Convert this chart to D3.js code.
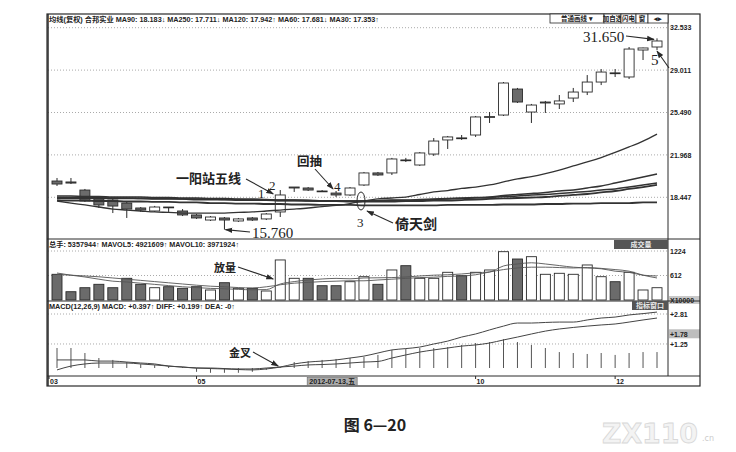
<!DOCTYPE html>
<html>
<head>
<meta charset="utf-8">
<script src="https://cdn.jsdelivr.net/npm/d3@7/dist/d3.min.js"></script>
<style>
  body { margin: 0; background: #fff; }
  svg { display: block; }
  .ui { font-family: 'Liberation Sans', 'Noto Sans CJK SC', sans-serif; font-size: 7px; font-weight: bold; fill: #222; }
  .note { font-family: 'Noto Sans CJK SC', sans-serif; font-weight: bold; fill: #222; }
  .num { font-family: 'Liberation Serif', 'DejaVu Serif', serif; fill: #222; }
</style>
</head>
<body>
<svg id="chart" width="736" height="452"></svg>
<script>
  // weekly candles, March - December 2012
  const opens = [19.80, 19.72, 19.05, 18.31, 18.22, 17.97, 17.56, 17.31, 17.64, 17.31, 16.98, 16.56, 16.73, 16.48, 16.73, 16.65, 17.23, 19.22, 19.22, 18.97, 18.80, 18.64, 19.47, 20.47, 20.47, 21.55, 21.13, 22.04, 23.21, 23.38, 23.62, 25.10, 25.28, 27.44, 25.53, 26.28, 26.20, 26.69, 27.19, 28.02, 28.78, 28.44, 30.68, 30.93]
  const highs = [20.05, 20.05, 19.14, 18.47, 18.39, 18.14, 17.64, 17.73, 17.64, 17.47, 17.06, 16.89, 16.81, 16.73, 16.81, 17.14, 19.05, 19.30, 19.30, 19.05, 18.97, 19.30, 20.55, 20.55, 21.72, 21.72, 22.21, 23.37, 23.54, 23.62, 25.20, 25.53, 28.02, 27.53, 26.20, 26.45, 26.94, 27.53, 28.60, 29.10, 29.10, 30.93, 30.88, 31.65]
  const lows = [19.39, 19.55, 18.06, 17.56, 17.14, 16.73, 17.23, 17.23, 17.23, 16.89, 16.65, 16.48, 15.76, 16.40, 16.48, 16.56, 16.81, 18.89, 18.97, 18.89, 18.47, 18.56, 19.39, 20.22, 20.30, 21.38, 21.05, 21.88, 22.46, 23.21, 23.46, 24.62, 25.20, 26.28, 24.62, 25.45, 25.78, 26.36, 26.94, 27.77, 28.44, 28.27, 29.85, 30.68]
  const closes = [19.55, 19.63, 18.14, 17.81, 17.72, 17.47, 17.39, 17.64, 17.60, 16.98, 16.73, 16.81, 16.56, 16.65, 16.56, 17.06, 18.64, 19.30, 19.05, 18.95, 18.64, 19.22, 20.47, 20.30, 21.63, 21.53, 22.13, 23.12, 23.46, 23.36, 25.12, 25.15, 27.94, 26.36, 26.11, 26.36, 26.45, 27.19, 28.02, 28.85, 28.74, 30.76, 30.85, 31.43]

  const ma30 = [18.14, 17.97, 17.81, 17.64, 17.47, 17.39, 17.31, 17.23, 17.19, 17.14, 17.14, 17.14, 17.14, 17.19, 17.23, 17.31, 17.39, 17.47, 17.56, 17.68, 17.77, 17.93, 18.14, 18.31, 18.39, 18.47, 18.68, 18.89, 19.01, 19.18, 19.30, 19.47, 19.72, 19.97, 20.17, 20.42, 20.71, 21.05, 21.38, 21.75, 22.17, 22.63, 23.12, 23.70]
  const ma60 = [18.56, 18.56, 18.51, 18.51, 18.47, 18.47, 18.47, 18.43, 18.43, 18.39, 18.39, 18.35, 18.35, 18.31, 18.31, 18.26, 18.22, 18.22, 18.18, 18.14, 18.14, 18.14, 18.14, 18.18, 18.22, 18.22, 18.26, 18.31, 18.35, 18.39, 18.43, 18.47, 18.60, 18.68, 18.76, 18.85, 18.97, 19.05, 19.22, 19.39, 19.63, 19.88, 20.13, 20.38]
  const ma90 = [18.43, 18.43, 18.43, 18.39, 18.39, 18.39, 18.35, 18.35, 18.35, 18.31, 18.31, 18.31, 18.26, 18.26, 18.22, 18.22, 18.18, 18.18, 18.14, 18.14, 18.14, 18.14, 18.14, 18.14, 18.18, 18.18, 18.22, 18.26, 18.31, 18.35, 18.39, 18.43, 18.51, 18.56, 18.64, 18.68, 18.76, 18.85, 18.93, 19.05, 19.14, 19.30, 19.47, 19.63]
  const ma120 = [18.39, 18.39, 18.39, 18.39, 18.35, 18.35, 18.35, 18.31, 18.31, 18.31, 18.26, 18.26, 18.26, 18.22, 18.22, 18.22, 18.18, 18.18, 18.18, 18.14, 18.14, 18.10, 18.10, 18.10, 18.10, 18.14, 18.14, 18.18, 18.18, 18.22, 18.26, 18.31, 18.35, 18.39, 18.43, 18.47, 18.56, 18.64, 18.72, 18.85, 18.97, 19.14, 19.30, 19.47]
  const ma250 = [18.22, 18.18, 18.18, 18.14, 18.14, 18.10, 18.10, 18.06, 18.06, 18.02, 18.02, 17.97, 17.97, 17.93, 17.93, 17.89, 17.89, 17.85, 17.85, 17.81, 17.81, 17.81, 17.77, 17.77, 17.77, 17.77, 17.77, 17.77, 17.81, 17.81, 17.81, 17.81, 17.85, 17.85, 17.85, 17.89, 17.89, 17.93, 17.93, 17.97, 17.97, 17.97, 18.02, 18.02]

  // volume in 10000 shares
  const volumes = [642, 207, 307, 392, 307, 542, 392, 307, 332, 292, 332, 250, 432, 292, 292, 225, 1000, 542, 542, 357, 357, 457, 582, 392, 750, 857, 542, 542, 692, 607, 692, 750, 1207, 1024, 1082, 642, 667, 642, 875, 582, 457, 692, 250, 307]
  const mavol5 = [674, 620, 575, 520, 470, 450, 420, 390, 360, 330, 310, 290, 280, 265, 255, 260, 400, 460, 500, 525, 540, 530, 550, 555, 560, 575, 600, 620, 630, 650, 680, 700, 850, 900, 930, 900, 860, 820, 800, 780, 720, 690, 620, 600]
  const mavol10 = [640, 620, 600, 580, 550, 520, 490, 460, 430, 400, 370, 345, 330, 310, 300, 330, 380, 420, 440, 460, 470, 480, 480, 500, 520, 540, 560, 570, 590, 600, 630, 700, 760, 800, 820, 820, 810, 800, 810, 790, 760, 720, 620, 550]

  const diff = [-0.10, 0.10, 0.21, 0.26, 0.26, 0.26, 0.21, 0.16, 0.10, 0.05, 0.00, -0.03, -0.05, -0.08, -0.10, -0.05, 0.05, 0.21, 0.31, 0.36, 0.42, 0.52, 0.62, 0.78, 0.94, 1.01, 1.09, 1.25, 1.40, 1.61, 1.77, 1.98, 2.18, 2.34, 2.34, 2.37, 2.39, 2.39, 2.50, 2.60, 2.65, 2.76, 2.83, 2.91]
  const dea = [0.42, 0.42, 0.42, 0.36, 0.36, 0.31, 0.26, 0.21, 0.10, 0.05, 0.00, 0.00, -0.03, -0.05, -0.05, 0.00, 0.05, 0.10, 0.16, 0.18, 0.21, 0.26, 0.31, 0.34, 0.52, 0.68, 0.83, 0.94, 1.04, 1.14, 1.20, 1.30, 1.46, 1.61, 1.77, 1.92, 2.03, 2.11, 2.18, 2.24, 2.29, 2.39, 2.50, 2.60]
  const macd = [1.04, 1.04, 0.78, 0.52, 0.42, 0.31, 0.20, 0.15, 0.10, 0.05, -0.20, -0.25, -0.25, -0.25, -0.20, -0.10, 0.05, 0.31, 0.36, 0.42, 0.47, 0.52, 0.57, 0.68, 0.94, 0.99, 1.04, 1.04, 1.09, 1.20, 1.30, 1.35, 1.50, 1.35, 1.20, 1.04, 0.83, 0.78, 0.73, 0.78, 0.68, 0.78, 0.83, 0.83]

  const priceTicks = [32.533, 29.011, 25.490, 21.968, 18.447]
  const volumeTicks = [1224, 612]
  const macdTicks = [2.81, 1.78, 1.25]
  const dateIndex = [0, 10, 30, 40]
  const dateLabels = ['03', '05', '10', '12']

  const n = opens.length
  const frameLeft = 47
  const plotRight = 668
  const outerRight = 700
  const frameTop = 14
  const mainBottom = 239
  const volBottom = 301
  const macdBottom = 376
  const frameBottom = 386
  const ink = '#2a2a2a'
  const darkFill = '#6b6b6b'

  const svg = d3.select('#chart')

  const x = d3.scaleLinear().domain([0, n - 1]).range([57, 657])
  const y = d3.scaleLinear().domain([18.447, 32.533]).range([197.3, 27.7])
  const yVol = d3.scaleLinear().domain([0, 1224]).range([300, 251])
  const yMacd = d3.scaleLinear().domain([0, 2.81]).range([368, 314])
  const isUp = i => closes[i] >= opens[i]

  // arrow head
  svg.append('defs').append('marker')
    .attr('id', 'head')
    .attr('viewBox', '0 0 10 10')
    .attr('refX', 9).attr('refY', 5)
    .attr('markerWidth', 7).attr('markerHeight', 7)
    .attr('orient', 'auto')
    .append('path')
      .attr('d', 'M0,1.5 L10,5 L0,8.5 Z')
      .attr('fill', ink)

  // dotted grid lines
  const grid = (scale, ticks) => {
    svg.append('g').selectAll('line').data(ticks).join('line')
      .attr('x1', frameLeft + 1).attr('x2', plotRight)
      .attr('y1', d => scale(d)).attr('y2', d => scale(d))
      .attr('stroke', '#aaa')
      .attr('stroke-dasharray', '1,2')
  }
  grid(y, priceTicks)
  grid(yVol, volumeTicks)
  grid(yMacd, [2.81, 1.25])

  // right-hand axes
  const rightAxis = (scale, ticks, fmt) => {
    const g = svg.append('g')
      .attr('transform', `translate(${plotRight},0)`)
      .call(d3.axisRight(scale).tickValues(ticks).tickFormat(fmt).tickSize(0).tickPadding(2))
    g.select('.domain').remove()
    g.selectAll('text').attr('class', 'ui').attr('fill', ink)
    return g
  }
  rightAxis(y, priceTicks, d3.format('.3f'))
  rightAxis(yVol, volumeTicks, d3.format('d'))
  svg.append('rect').attr('x', plotRight + 1).attr('y', 296).attr('width', 31).attr('height', 8).attr('fill', '#c8c8c8')
  svg.append('text').attr('class', 'ui').attr('x', plotRight + 2).attr('y', 302.5).text('X10000')
  svg.append('rect').attr('x', plotRight + 1).attr('y', yMacd(1.78) - 4.5).attr('width', 31).attr('height', 9).attr('fill', '#bdbdbd')
  rightAxis(yMacd, macdTicks, d => '+' + d3.format('.2f')(d))

  // candles
  const candle = svg.append('g').selectAll('g').data(d3.range(n)).join('g')
  candle.append('line')
    .attr('x1', i => x(i)).attr('x2', i => x(i))
    .attr('y1', i => y(highs[i])).attr('y2', i => y(lows[i]))
    .attr('stroke', ink)
  candle.append('rect')
    .attr('x', i => x(i) - 5)
    .attr('width', 10)
    .attr('y', i => y(Math.max(opens[i], closes[i])))
    .attr('height', i => Math.max(0.8, Math.abs(y(opens[i]) - y(closes[i]))))
    .attr('fill', i => isUp(i) ? '#fff' : darkFill)
    .attr('stroke', ink)
    .attr('stroke-width', 0.9)

  // moving averages
  const maLine = d3.line().x((d, i) => x(i)).y(d => y(d)).curve(d3.curveMonotoneX)
  const maSeries = [[ma250, 1.8], [ma120, 1.8], [ma90, 1.5], [ma60, 1.5], [ma30, 1.3]]
  svg.append('g').selectAll('path').data(maSeries).join('path')
    .attr('d', d => maLine(d[0]))
    .attr('fill', 'none')
    .attr('stroke', '#333')
    .attr('stroke-width', d => d[1])

  // volume
  svg.append('g').selectAll('rect').data(volumes).join('rect')
    .attr('x', (d, i) => x(i) - 5)
    .attr('width', 10)
    .attr('y', d => yVol(d))
    .attr('height', d => yVol(0) - yVol(d))
    .attr('fill', (d, i) => isUp(i) ? '#fff' : darkFill)
    .attr('stroke', ink)
    .attr('stroke-width', 0.9)
  const volLine = d3.line().x((d, i) => x(i)).y(d => yVol(d)).curve(d3.curveMonotoneX)
  svg.append('g').selectAll('path').data([mavol5, mavol10]).join('path')
    .attr('d', volLine)
    .attr('fill', 'none')
    .attr('stroke', '#555')
    .attr('stroke-width', 0.9)

  // MACD
  svg.append('g').selectAll('line').data(macd).join('line')
    .attr('x1', (d, i) => x(i)).attr('x2', (d, i) => x(i))
    .attr('y1', yMacd(0)).attr('y2', d => yMacd(d))
    .attr('stroke', '#555')
  const macdLine = d3.line().x((d, i) => x(i)).y(d => yMacd(d)).curve(d3.curveMonotoneX)
  svg.append('g').selectAll('path').data([diff, dea]).join('path')
    .attr('d', macdLine)
    .attr('fill', 'none')
    .attr('stroke', '#444')
    .attr('stroke-width', 1)

  // frame
  const frame = svg.append('g').attr('stroke', ink).attr('fill', 'none')
  frame.append('rect').attr('x', frameLeft).attr('y', frameTop).attr('width', outerRight - frameLeft).attr('height', frameBottom - frameTop).attr('stroke-width', 1.2)
  frame.append('line').attr('x1', plotRight).attr('x2', plotRight).attr('y1', frameTop).attr('y2', macdBottom)
  ;[mainBottom, volBottom, macdBottom].forEach(v => {
    frame.append('line').attr('x1', frameLeft).attr('x2', outerRight).attr('y1', v).attr('y2', v)
  })
  frame.append('line').attr('x1', frameLeft + 1).attr('x2', frameLeft + 1).attr('y1', frameTop).attr('y2', frameBottom).attr('stroke-width', 1.5)

  // panel titles
  svg.append('text').attr('class', 'ui').attr('x', 49).attr('y', 22)
    .attr('textLength', 330).attr('lengthAdjust', 'spacingAndGlyphs')
    .text('均线(复权) 合邦实业 MA90: 18.183↓ MA250: 17.711↓ MA120: 17.942↑ MA60: 17.681↓ MA30: 17.353↑')
  svg.append('text').attr('class', 'ui').attr('x', 49).attr('y', 247)
    .attr('textLength', 190).attr('lengthAdjust', 'spacingAndGlyphs')
    .text('总手: 5357944↑ MAVOL5: 4921609↑ MAVOL10: 3971924↑')
  svg.append('text').attr('class', 'ui').attr('x', 49).attr('y', 308.5)
    .attr('textLength', 186).attr('lengthAdjust', 'spacingAndGlyphs')
    .text('MACD(12,26,9) MACD: +0.397↑ DIFF: +0.199↑ DEA: -0↑')

  // toolbar buttons
  const buttons = [[550, 604, '普通画线   ▾'], [604, 621, '加自选'], [621, 636, '闪电'], [636, 648, '窗'], [648, 668, '◂▸']]
  buttons.forEach(([a, b, label]) => {
    svg.append('rect').attr('x', a).attr('y', frameTop).attr('width', b - a).attr('height', 9)
      .attr('fill', '#fff').attr('stroke', ink).attr('stroke-width', 0.8)
    svg.append('text').attr('class', 'ui').attr('x', (a + b) / 2).attr('y', frameTop + 7)
      .attr('text-anchor', 'middle').style('font-size', '6.5px').text(label)
  })
  const darkButton = (bx, by, w, label) => {
    svg.append('rect').attr('x', bx).attr('y', by).attr('width', w).attr('height', 9).attr('fill', '#555')
    svg.append('text').attr('class', 'ui').attr('x', bx + w / 2).attr('y', by + 7)
      .attr('text-anchor', 'middle').style('fill', '#e8e8e8').text(label)
  }
  darkButton(614, mainBottom + 1, 54, '成交量')
  darkButton(632, volBottom, 36, '指标窗口')

  // date axis
  const tickX = i => i === 0 ? frameLeft + 2 : x(i)
  svg.append('g').selectAll('line').data(dateIndex).join('line')
    .attr('x1', tickX).attr('x2', tickX)
    .attr('y1', macdBottom).attr('y2', macdBottom + 3)
    .attr('stroke', ink)
  svg.append('g').selectAll('text').data(dateIndex).join('text')
    .attr('class', 'ui')
    .attr('x', i => tickX(i) + 1)
    .attr('y', 383.5)
    .text((d, k) => dateLabels[k])
  svg.append('rect').attr('x', x(18) - 1).attr('y', macdBottom + 1.5).attr('width', 50).attr('height', 8)
    .attr('fill', '#aaa').attr('stroke', '#666').attr('stroke-width', 0.6)
  svg.append('text').attr('class', 'ui').attr('x', x(18) + 1).attr('y', 383.5)
    .attr('textLength', 46).attr('lengthAdjust', 'spacingAndGlyphs').text('2012-07-13,五')

  // annotations
  const arrow = (x1, y1, x2, y2) => {
    svg.append('line').attr('x1', x1).attr('y1', y1).attr('x2', x2).attr('y2', y2)
      .attr('stroke', ink).attr('stroke-width', 1.1).attr('marker-end', 'url(#head)')
  }
  const note = (tx, ty, size, label, cls) => {
    svg.append('text').attr('class', cls || 'note').attr('x', tx).attr('y', ty)
      .style('font-size', size + 'px').text(label)
  }

  note(583, 42, 15, '31.650', 'num')
  arrow(626, 36, x(43) - 3, y(highs[43]) + 1)
  note(651, 65, 15, '5', 'num')
  arrow(669, 68, x(43), y(lows[43]) + 1)

  note(176, 183, 13, '一阳站五线')
  arrow(246, 179, x(16) - 7, y(closes[16]) - 1)
  note(258, 198, 13, '1', 'num')
  note(269, 190, 13, '2', 'num')

  note(297, 166, 12.5, '回抽')
  arrow(315, 169, x(20) - 3, y(highs[20]) - 2)
  note(334, 191, 13, '4', 'num')

  svg.append('ellipse')
    .attr('cx', (x(21) + x(22)) / 2 + 4).attr('cy', y(ma60[22]))
    .attr('rx', 4).attr('ry', 9)
    .attr('fill', 'none').attr('stroke', ink)
  note(357, 227, 13, '3', 'num')
  note(395, 229, 14, '倚天剑')
  arrow(393, 223, 367, 211)

  note(252, 238, 15, '15.760', 'num')
  arrow(250, 232, x(12) + 1, y(lows[12]))

  note(214, 272, 11, '放量')
  arrow(238, 267, x(16) - 7, 279)

  note(229, 357, 11, '金叉')
  arrow(253, 352, x(16) - 2, yMacd(diff[16]) - 1)

  // caption and watermark
  svg.append('text').attr('x', 375).attr('y', 431).attr('text-anchor', 'middle')
    .attr('font-family', "'Noto Sans CJK SC', 'Liberation Serif', serif")
    .attr('font-weight', 'bold').attr('font-size', 16).attr('fill', '#222')
    .text('图 6—20')
  svg.append('text').attr('x', 602).attr('y', 443)
    .attr('font-family', "'DejaVu Sans', sans-serif").attr('font-weight', 'bold').attr('font-size', 26)
    .attr('textLength', 96).attr('lengthAdjust', 'spacingAndGlyphs')
    .attr('fill', '#f3f3f3').attr('stroke', '#d8d8d8').attr('stroke-width', 0.8)
    .text('ZX110')
  svg.append('text').attr('x', 702).attr('y', 441)
    .attr('font-family', "'DejaVu Sans', sans-serif").attr('font-size', 8)
    .attr('fill', '#ccc')
    .text('.cn')
</script>
</body>
</html>
